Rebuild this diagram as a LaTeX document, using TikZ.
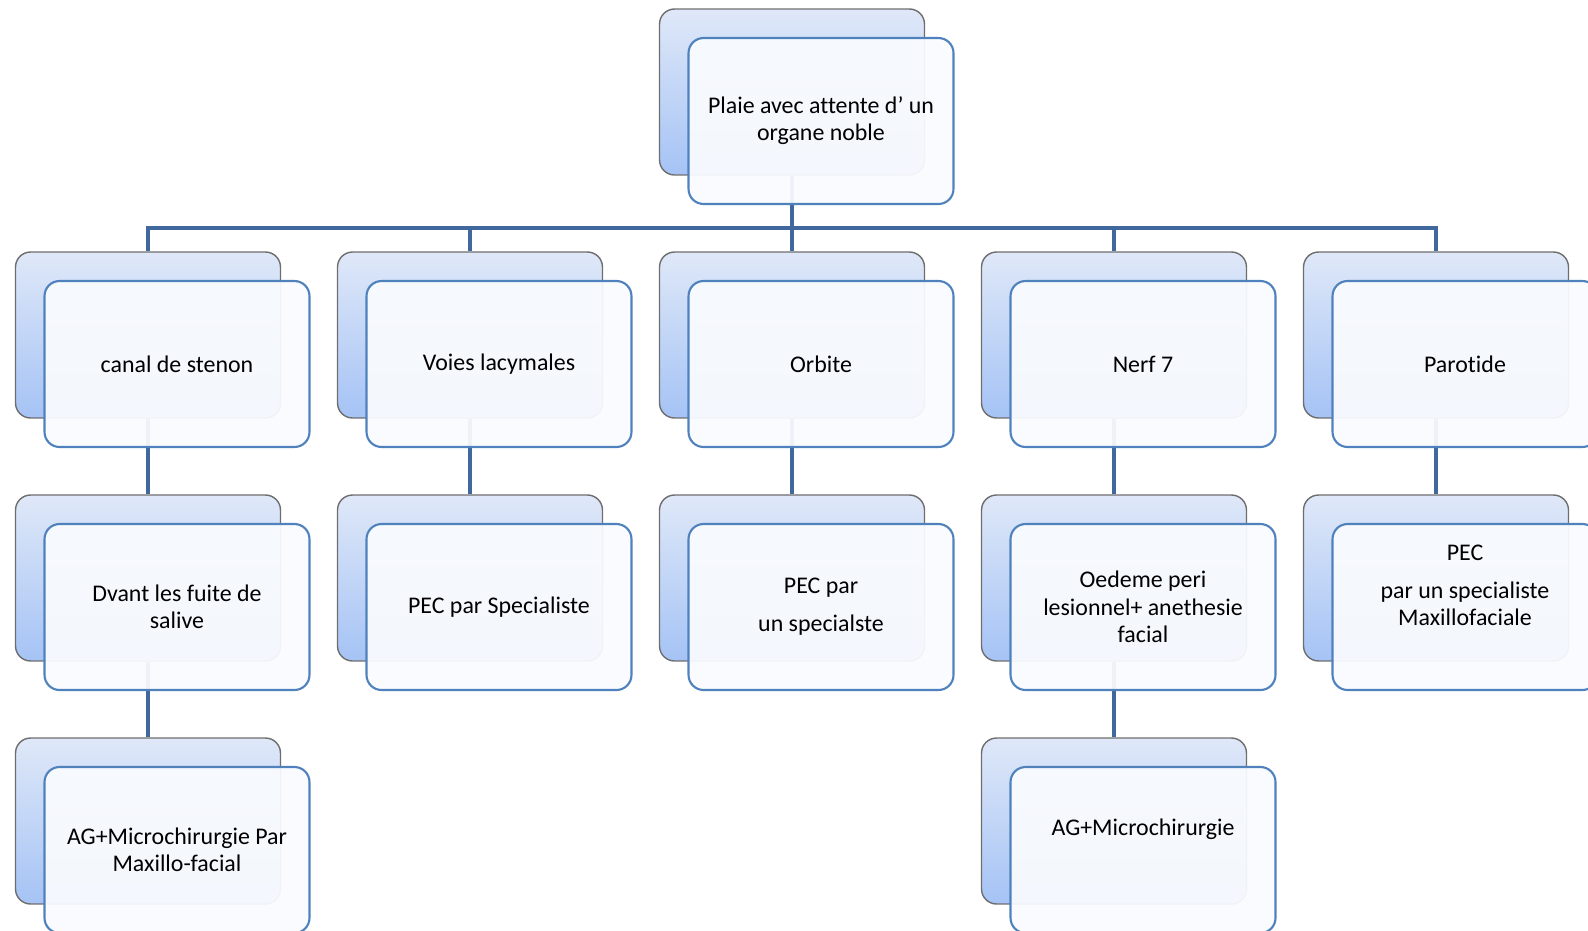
\documentclass[tikz,border=0pt]{standalone}
\usepackage{fontspec}
\setmainfont{Carlito}[Ligatures=NoCommon]
\usetikzlibrary{backgrounds}
\definecolor{boxtop}{HTML}{DFE8F8}
\definecolor{boxbot}{HTML}{A5C3F5}
\definecolor{boxline}{HTML}{6E6E6E}
\definecolor{cardedge}{HTML}{4F81BD}
\definecolor{cardfill}{HTML}{F9FBFE}
\definecolor{linkcol}{HTML}{41689C}
\begin{document}
\begin{tikzpicture}[x=0.02cm, y=-0.02cm,
  every node/.style={font=\fontsize{13.6}{15.5}\selectfont},
  backbox/.style={rectangle, rounded corners=0.3cm, minimum width=5.3cm, minimum height=3.32cm,
    draw=boxline, line width=0.8pt, top color=boxtop, bottom color=boxbot},
  card/.style={rectangle, rounded corners=0.3cm, minimum width=5.3cm, minimum height=3.32cm,
    draw=cardedge, line width=1.2pt, fill=cardfill, fill opacity=0.94, text opacity=1, align=center},
  link/.style={linkcol, line width=2.6pt}]
  \useasboundingbox (0,0) rectangle (1588,930);
  \clip (0,0) rectangle (1588,930);
  % boxes: name/column/row/text
  \foreach \n/\c/\r/\t in {
      top/2/0/{Plaie avec attente d' un\\organe noble},
      stenon/0/1/{canal de stenon},
      voies/1/1/{Voies lacymales},
      orbite/2/1/{Orbite},
      nerf/3/1/{Nerf 7},
      parotide/4/1/{Parotide},
      fuite/0/2/{Dvant les fuite de\\salive},
      specialiste/1/2/{PEC par Specialiste},
      pecorb/2/2/{PEC par\\[6pt]un specialste},
      oedeme/3/2/{Oedeme peri\\lesionnel+ anethesie\\facial},
      pecmax/4/2/{PEC\\[6pt]par un specialiste\\Maxillofaciale\\[9pt]~},
      micromax/0/3/{AG+Microchirurgie Par\\Maxillo-facial},
      micro/3/3/{AG+Microchirurgie\\[10pt]~}} {
    \node[backbox] (\n-b) at (148+322*\c, 92+243*\r) {};
    \node[card] (\n) at ([shift={(29,29)}]\n-b.center) {\t};
  }
  % connectors
  \begin{scope}[on background layer]
    \coordinate (bar) at (792,228);
    \draw[link] (top-b) -- (bar);
    \foreach \n in {stenon,voies,orbite,nerf,parotide}
      \draw[link] (bar) -| (\n-b);
    \foreach \a/\b in {stenon/fuite,voies/specialiste,orbite/pecorb,nerf/oedeme,
                       parotide/pecmax,fuite/micromax,oedeme/micro}
      \draw[link] (\a-b) -- (\b-b);
  \end{scope}
\end{tikzpicture}
\end{document}
